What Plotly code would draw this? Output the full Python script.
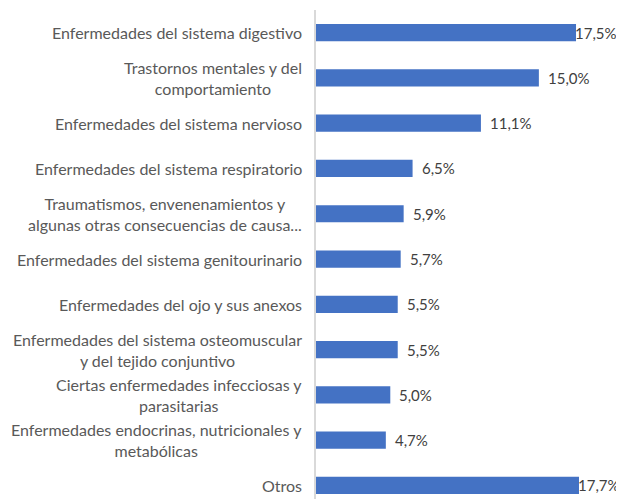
import plotly.graph_objects as go

categories = [
    "Enfermedades del sistema digestivo",
    "Trastornos mentales y del<br>comportamiento",
    "Enfermedades del sistema nervioso",
    "Enfermedades del sistema respiratorio",
    "Traumatismos, envenenamientos y<br>algunas otras consecuencias de causa...",
    "Enfermedades del sistema genitourinario",
    "Enfermedades del ojo y sus anexos",
    "Enfermedades del sistema osteomuscular<br>y del tejido conjuntivo",
    "Ciertas enfermedades infecciosas y<br>parasitarias",
    "Enfermedades endocrinas, nutricionales y<br>metabólicas",
    "Otros",
]
values = [17.5, 15.0, 11.1, 6.5, 5.9, 5.7, 5.5, 5.5, 5.0, 4.7, 17.7]

font_family = "Lato, sans-serif"
text_color = "#595959"

fig = go.Figure(
    go.Bar(
        x=values,
        y=list(range(len(categories))),
        orientation="h",
        marker=dict(color="#4472C4", line=dict(color="#4472C4", width=0)),
        width=0.38,
        hoverinfo="x+y",
    )
)

# category labels as annotations so multi-line labels stay centred
for i, label in enumerate(categories):
    fig.add_annotation(
        x=0,
        y=i,
        xref="paper",
        yref="y",
        text=label,
        showarrow=False,
        xanchor="right",
        yanchor="middle",
        align="center",
        xshift=-12,
        font=dict(family=font_family, size=16, color=text_color),
    )

# value labels; the longest bars get their label pulled in to fit the page
for i, v in enumerate(values):
    fig.add_annotation(
        x=v,
        y=i,
        xref="x",
        yref="y",
        text=f"{v:.1f}%".replace(".", ","),
        showarrow=False,
        xanchor="left",
        yanchor="middle",
        xshift=-2 if v > 17 else 8,
        borderpad=0,
        font=dict(family=font_family, size=15, color="#404040"),
    )

# the page body adds an 8px margin, so the figure is a bit smaller than the window
fig.update_layout(
    width=616,
    height=491,
    margin=dict(l=308, r=4, t=2, b=0),
    plot_bgcolor="white",
    paper_bgcolor="white",
    showlegend=False,
    xaxis=dict(range=[0, 20.46], visible=False),
    yaxis=dict(
        range=[10.3, -0.5],
        showticklabels=False,
        showgrid=False,
        zeroline=False,
        showline=True,
        linecolor="#D9D9D9",
        linewidth=1.5,
        ticks="",
    ),
)

fig.write_html("out.html")
